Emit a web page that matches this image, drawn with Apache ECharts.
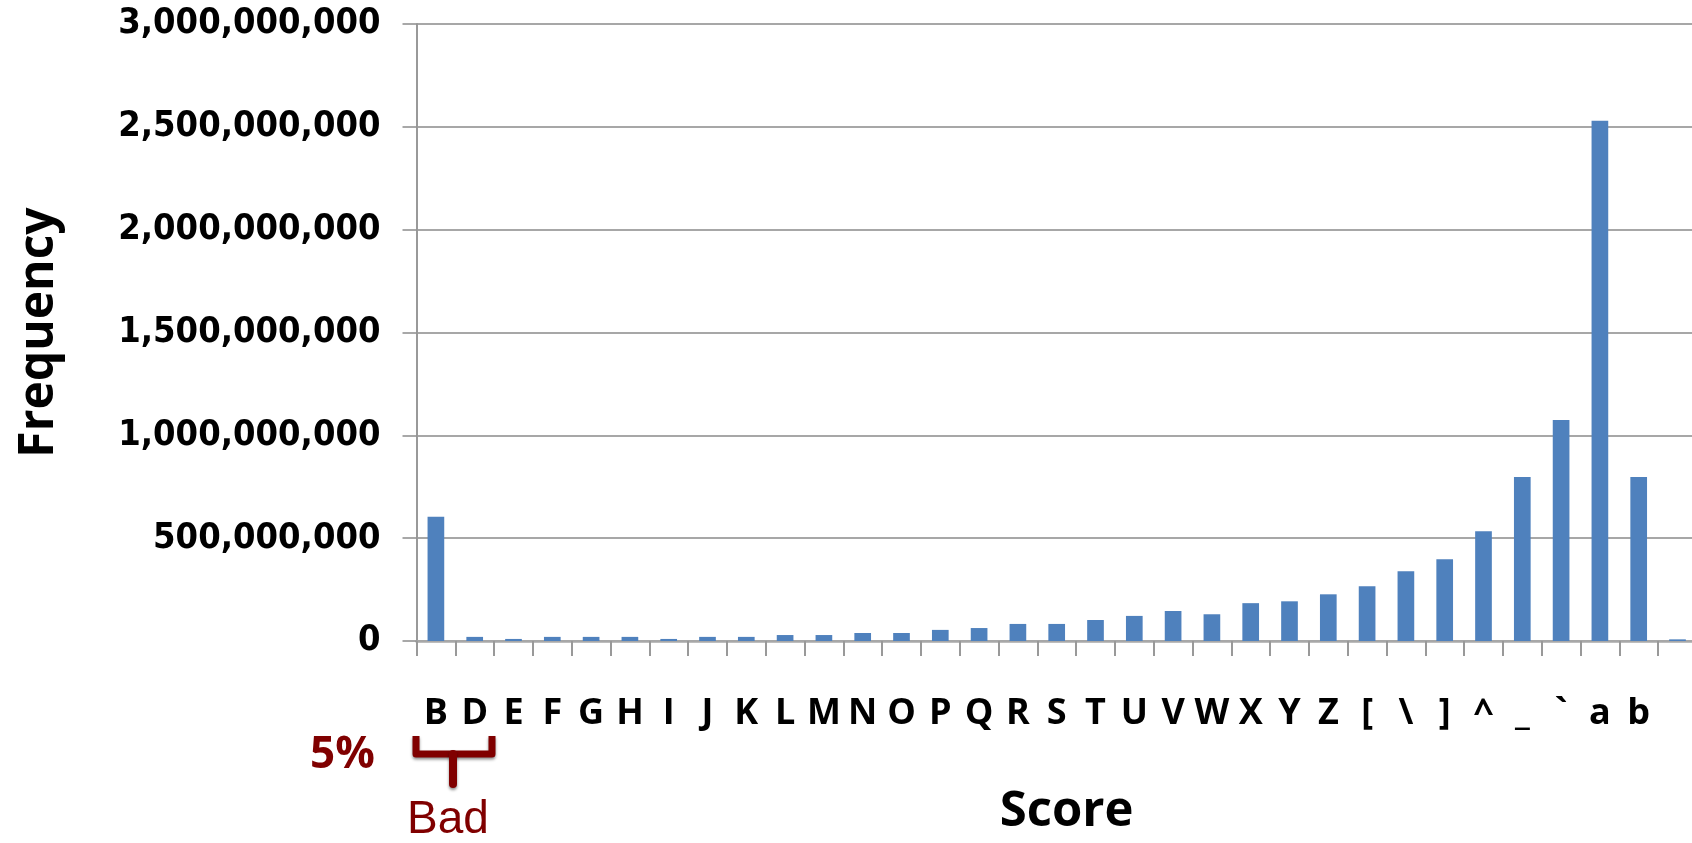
<!DOCTYPE html>
<html>
<head>
<meta charset="utf-8">
<script src="https://cdn.jsdelivr.net/npm/echarts@6/dist/echarts.min.js"></script>
<style>
html,body{margin:0;padding:0;background:#fff;}
#main{width:1692px;height:843px;}
</style>
</head>
<body>
<div id="main"></div>
<script>
// score symbols on the x axis (last one is cut off at the edge)
var categories = ['B','D','E','F','G','H','I','J','K','L','M','N','O','P','Q','R','S','T','U','V','W','X','Y','Z','[','\\',']','^','_','`','a','b',''];
// frequency per score
var freq = [604e6, 20e6, 10e6, 20e6, 20e6, 20e6, 10e6, 20e6, 20e6, 29e6,
            29e6, 39e6, 39e6, 54e6, 63e6, 83e6, 83e6, 102e6, 122e6, 146e6,
            130e6, 184e6, 193e6, 227e6, 266e6, 339e6, 398e6, 534e6, 797e6, 1075e6,
            2530e6, 797e6, 8e6];
var yTicks = [0, 3e9, 5e8]; // min, max, interval

var darkRed = '#800000';
var bold = '"Open Sans", "Noto Sans", sans-serif';

var myChart = echarts.init(document.getElementById('main'));

var option = {
    animation: false,
    grid: {
        left: 416.5,
        top: 24,
        width: 1280.4,
        height: 617,
        containLabel: false,
        outerBoundsMode: 'none'
    },
    xAxis: {
        type: 'category',
        data: categories,
        name: 'Score',
        nameLocation: 'middle',
        nameGap: 147,
        nameTextStyle: {
            fontFamily: bold,
            fontWeight: 'bold',
            fontSize: 49,
            color: '#000',
            padding: [0, 0, 0, 20]
        },
        axisLine: {lineStyle: {color: '#a8a8a8', width: 2.5}},
        axisTick: {show: true, length: 15, lineStyle: {color: '#999', width: 2}},
        axisLabel: {
            interval: 0,
            margin: 55,
            fontFamily: bold,
            fontWeight: 'bold',
            fontSize: 36,
            color: '#000'
        }
    },
    yAxis: {
        type: 'value',
        min: yTicks[0],
        max: yTicks[1],
        interval: yTicks[2],
        name: 'Frequency',
        nameLocation: 'middle',
        nameRotate: 90,
        nameGap: 353,
        nameTextStyle: {
            fontFamily: bold,
            fontWeight: 'bold',
            fontSize: 48,
            color: '#000'
        },
        axisLine: {show: true, lineStyle: {color: '#999', width: 2}},
        axisTick: {show: true, length: 14, lineStyle: {color: '#8c8c8c', width: 1.5}},
        splitLine: {lineStyle: {color: '#8a8a8a', width: 1.5}},
        axisLabel: {
            margin: 36,
            fontFamily: '"DejaVu Sans Condensed", "DejaVu Sans", Verdana, sans-serif',
            fontWeight: 'bold',
            fontSize: 36,
            color: '#000',
            formatter: function (v) {
                return v.toLocaleString('en-US');
            }
        }
    },
    series: [{
        type: 'bar',
        data: freq,
        barWidth: '43%',
        itemStyle: {color: '#4F81BD'}
    }],
    graphic: [
        {
            type: 'text',
            left: 310,
            top: 733,
            style: {
                text: '5%',
                fill: darkRed,
                font: 'bold 44px ' + bold
            }
        },
        {
            // bracket under B and D
            type: 'polyline',
            shape: {points: [[416, 736], [416, 754], [492, 754], [492, 736]]},
            style: {
                stroke: darkRed,
                lineWidth: 7,
                fill: null,
                lineJoin: 'round',
                shadowColor: 'rgba(0,0,0,0.45)',
                shadowBlur: 3,
                shadowOffsetY: 2
            }
        },
        {
            type: 'polyline',
            shape: {points: [[453, 754], [453, 784]]},
            style: {
                stroke: darkRed,
                lineWidth: 8,
                fill: null,
                lineCap: 'round',
                shadowColor: 'rgba(0,0,0,0.45)',
                shadowBlur: 3,
                shadowOffsetY: 2
            }
        },
        {
            type: 'text',
            left: 407,
            top: 797,
            style: {
                text: 'Bad',
                fill: darkRed,
                font: '46px "Liberation Sans", Arial, sans-serif'
            }
        }
    ]
};

myChart.setOption(option);
</script>
</body>
</html>
